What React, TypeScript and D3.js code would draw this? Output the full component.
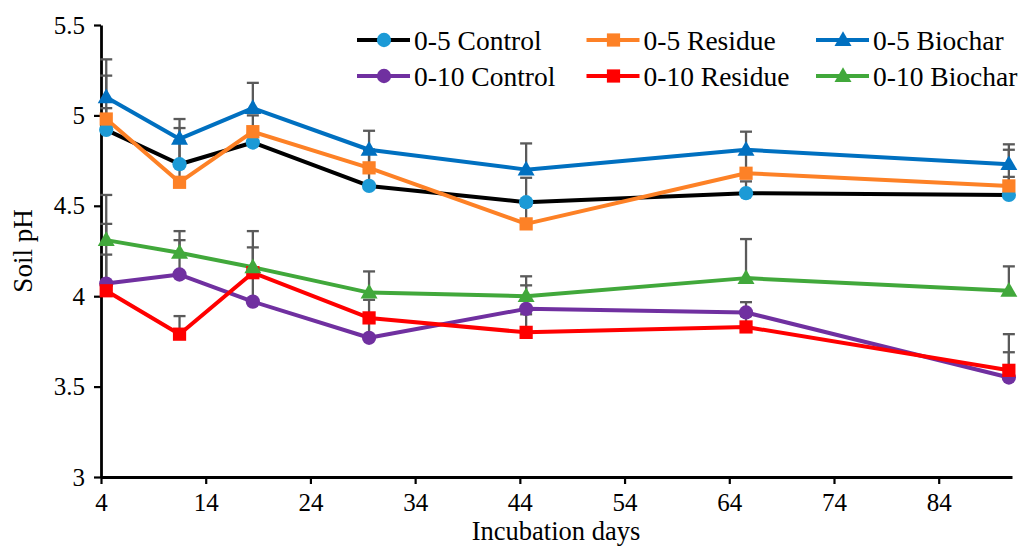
import React, { useEffect, useRef } from 'react';
import * as d3 from 'd3';

// sampling days
const days = [4.5, 11.5, 18.5, 29.6, 44.6, 65.6, 90.7];
const xTicks = [4, 14, 24, 34, 44, 54, 64, 74, 84];
const yTicks = [3, 3.5, 4, 4.5, 5, 5.5];

const names = ['0-5 Control', '0-5 Residue', '0-5 Biochar', '0-10 Control', '0-10 Residue', '0-10 Biochar'];

const control05 = [4.92, 4.73, 4.85, 4.61, 4.52, 4.57, 4.56];
const residue05 = [4.98, 4.63, 4.91, 4.71, 4.40, 4.68, 4.61];
const biochar05 = [5.10, 4.87, 5.04, 4.81, 4.70, 4.81, 4.73];
const control010 = [4.07, 4.12, 3.97, 3.77, 3.93, 3.91, 3.55];
const residue010 = [4.03, 3.79, 4.13, 3.88, 3.80, 3.83, 3.59];
const biochar010 = [4.31, 4.24, 4.16, 4.02, 4.00, 4.10, 4.03];

// upper error bars
const control05Err = [0.12, 0.13, 0.05, 0.2, 0.135, 0.065, 0.1];
const residue05Err = [0.24, 0.3, 0.09, 0.1, 0.1, 0.12, 0.23];
const biochar05Err = [0.21, 0.11, 0.14, 0.105, 0.145, 0.1, 0.08];
const control010Err = [0.33, 0.19, 0.15, 0.1, 0.13, 0.057, 0.14];
const residue010Err = [0.2, 0.1, 0.23, 0.1, 0.1, 0.06, 0.2];
const biochar010Err = [0.25, 0.12, 0.11, 0.117, 0.11, 0.216, 0.135];

const lineColors = ['#000000', '#fd8126', '#0070c0', '#7030a0', '#ff0000', '#41a83b'];
const markerColors = ['#1c9ad6', '#fd8126', '#0070c0', '#7030a0', '#ff0000', '#41a83b'];
const symbols = [d3.symbolCircle, d3.symbolSquare, d3.symbolTriangle, d3.symbolCircle, d3.symbolSquare, d3.symbolTriangle];
const symbolSizes = [160, 175, 125, 160, 175, 125];

const values = [control05, residue05, biochar05, control010, residue010, biochar010];
const errors = [control05Err, residue05Err, biochar05Err, control010Err, residue010Err, biochar010Err];

const W = 1025, H = 548;
const margin = { top: 25, right: 13, bottom: 71, left: 101 };
const font = '"Liberation Serif", "Times New Roman", serif';

export default function App() {
  const ref = useRef<SVGSVGElement>(null);

  useEffect(() => {
    const svg = d3.select(ref.current);
    svg.selectAll('*').remove();

    const x = d3.scaleLinear().domain([4, 91]).range([margin.left, W - margin.right]);
    const y = d3.scaleLinear().domain([3, 5.5]).range([H - margin.bottom, margin.top]);

    const series = names.map((name, i) => ({
      name,
      i,
      pts: days.map((d, j) => ({ d, v: values[i][j], e: errors[i][j] })),
    }));

    // axes
    const yAxis = svg.append('g')
      .attr('transform', `translate(${margin.left},0)`)
      .call(d3.axisLeft(y).tickValues(yTicks).tickFormat(d => String(d)).tickSize(7).tickSizeOuter(0).tickPadding(9));
    const xAxis = svg.append('g')
      .attr('transform', `translate(0,${H - margin.bottom})`)
      .call(d3.axisBottom(x).tickValues(xTicks).tickFormat(d => String(d)).tickSize(7).tickSizeOuter(0).tickPadding(9));

    [xAxis, yAxis].forEach(g => {
      g.select('.domain').attr('stroke', '#000').attr('stroke-width', 2.8);
      g.selectAll('.tick line').attr('stroke', '#000').attr('stroke-width', 2.2);
      g.selectAll('.tick text').attr('fill', '#000').style('font-family', font).style('font-size', '25px');
    });

    svg.append('text')
      .text('Incubation days')
      .attr('x', 556).attr('y', H - 8)
      .attr('text-anchor', 'middle')
      .style('font-family', font).style('font-size', '26.5px');

    svg.append('text')
      .text('Soil pH')
      .attr('transform', `translate(32,${(margin.top + H - margin.bottom) / 2}) rotate(-90)`)
      .attr('text-anchor', 'middle')
      .style('font-family', font).style('font-size', '27px');

    // error bars (plus only)
    const eb = svg.append('g');
    series.forEach(s => {
      s.pts.forEach(p => {
        eb.append('line')
          .attr('x1', x(p.d)).attr('x2', x(p.d))
          .attr('y1', y(p.v)).attr('y2', y(p.v + p.e))
          .attr('stroke', '#5a5a5a').attr('stroke-width', 2.3);
        eb.append('line')
          .attr('x1', x(p.d) - 6).attr('x2', x(p.d) + 6)
          .attr('y1', y(p.v + p.e)).attr('y2', y(p.v + p.e))
          .attr('stroke', '#5a5a5a').attr('stroke-width', 2.3);
      });
    });

    const line = d3.line<{ d: number; v: number }>().x(p => x(p.d)).y(p => y(p.v));

    series.forEach(s => {
      svg.append('path')
        .datum(s.pts)
        .attr('d', line)
        .attr('fill', 'none')
        .attr('stroke', lineColors[s.i])
        .attr('stroke-width', 4)
        .attr('stroke-linejoin', 'round');
    });

    series.forEach(s => {
      const sym = d3.symbol().type(symbols[s.i]).size(symbolSizes[s.i]);
      svg.append('g').selectAll('path')
        .data(s.pts)
        .join('path')
        .attr('transform', p => `translate(${x(p.d)},${y(p.v) + (symbols[s.i] === d3.symbolTriangle ? 1 : 0)})`)
        .attr('d', sym)
        .attr('fill', markerColors[s.i]);
    });

    // legend
    const legX = d3.scalePoint<number>().domain([0, 1, 2]).range([357, 816]);
    const legY = d3.scalePoint<number>().domain([0, 1]).range([40, 76]);
    series.forEach(s => {
      const col = s.i % 3, row = Math.floor(s.i / 3);
      const lg = svg.append('g').attr('transform', `translate(${legX(col)},${legY(row)})`);
      lg.append('line').attr('x1', 0).attr('x2', 53).attr('y1', 0).attr('y2', 0)
        .attr('stroke', lineColors[s.i]).attr('stroke-width', 4);
      lg.append('path')
        .attr('transform', `translate(27,${symbols[s.i] === d3.symbolTriangle ? 1 : 0})`)
        .attr('d', d3.symbol().type(symbols[s.i]).size(symbolSizes[s.i])())
        .attr('fill', markerColors[s.i]);
      lg.append('text').text(s.name)
        .attr('x', 57).attr('y', 9.5)
        .style('font-family', font).style('font-size', '27.5px');
    });
  }, []);

  return (
    <svg ref={ref} width={W} height={H} style={{ position: 'absolute', left: 0, top: 0, background: '#fff' }} />
  );
}
